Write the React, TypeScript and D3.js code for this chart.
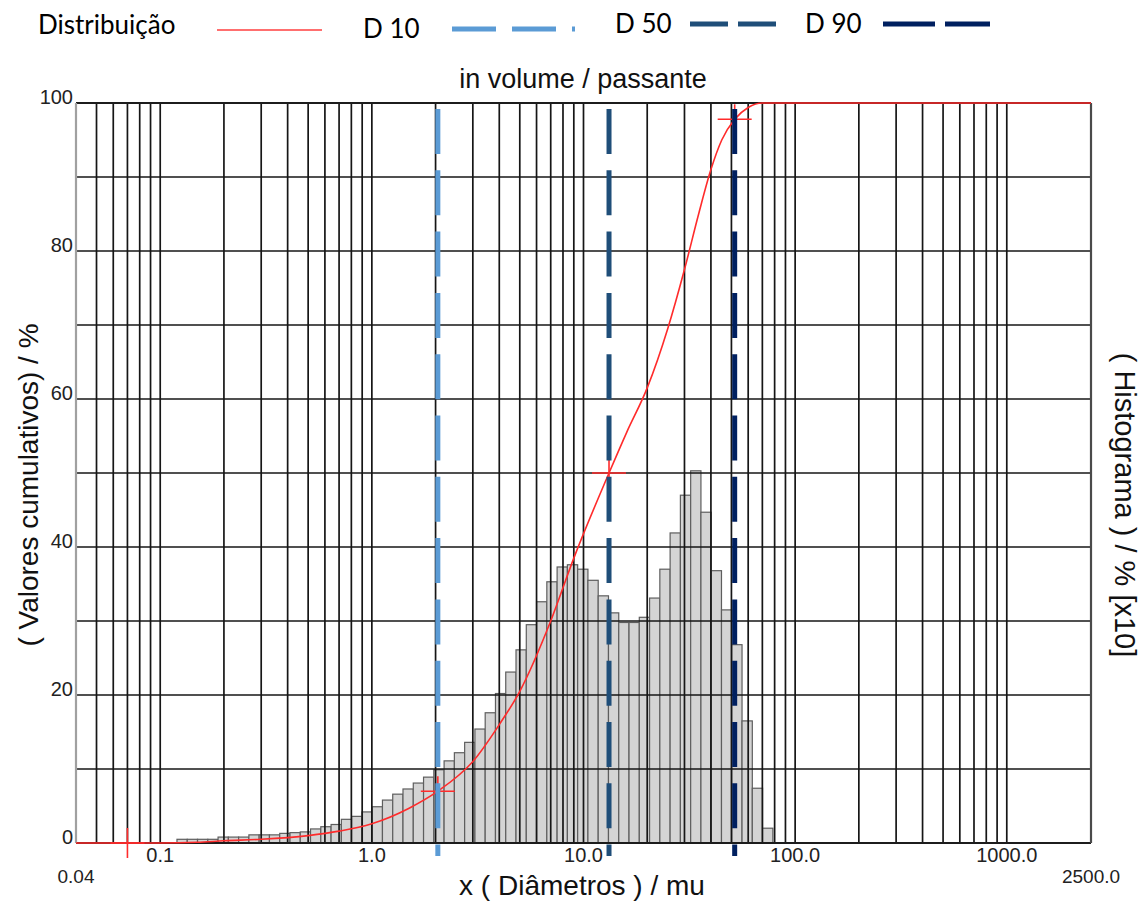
import React, { useEffect, useRef } from 'react';
import * as d3 from 'd3';

const W = 1145;
const H = 904;

// histogram classes (log spaced), values in % x10
const histStart = 0.12;
const histPerDecade = 20.6;
const histValues = [
  0.5, 0.5, 0.5, 0.5, 0.8, 0.8, 0.8, 1.1, 1.1, 1.1,
  1.3, 1.4, 1.5, 1.9, 2.2, 2.5, 3.2, 3.6, 4.2, 4.9,
  5.8, 6.6, 7.3, 8.1, 8.9, 9.9, 11.1, 12.2, 13.6, 15.4,
  17.6, 20.2, 23.1, 26.1, 29.5, 32.6, 35.3, 37.3, 37.6, 37.0,
  35.5, 33.4, 31.1, 29.8, 29.8, 30.5, 33.1, 37.0, 41.9, 47.0,
  50.3, 44.7, 36.8, 31.5, 26.8, 16.5, 7.4, 2.0
];

// cumulative curve (passante %)
const cumDiam = [0.04, 0.1, 0.15, 0.2, 0.3, 0.5, 0.7, 1.0, 1.5, 2.05, 3.0, 4.0, 5.0, 7.0, 9.0, 13.2, 16, 20, 25, 30, 35, 40, 45, 51.8, 60, 70, 2500];
const cumValue = [0, 0, 0.1, 0.3, 0.5, 1.0, 1.6, 2.6, 4.7, 7.0, 11.0, 16.0, 20.5, 30.0, 38.5, 50, 55.5, 61.5, 69.5, 77.5, 85, 91, 95, 97.8, 99.4, 100, 100];

// red cross markers
const markerDiam = [0.07, 2.05, 13.2, 51.8];
const markerValue = [0, 7, 50, 97.8];

// D10 / D50 / D90
const dNames = ['D 10', 'D 50', 'D 90'];
const dValues = [2.05, 13.2, 51.8];
const dColors = ['#5b9bd5', '#1f4e79', '#002060'];

const yTicks = [0, 20, 40, 60, 80, 100];
const xTicks = [0.1, 1, 10, 100, 1000];
const xTickLabels = ['0.1', '1.0', '10.0', '100.0', '1000.0'];
const xEnds = [0.04, 2500];
const xEndLabels = ['0.04', '2500.0'];

const FONT = "'Liberation Sans', Arial, sans-serif";

export default function App() {
  const ref = useRef<SVGSVGElement>(null);

  useEffect(() => {
    const svg = d3.select(ref.current);
    svg.selectAll('*').remove();

    const x = d3.scaleLog().domain([0.04, 2500]).range([76, 1091]);
    const y = d3.scaleLinear().domain([0, 100]).range([843, 103]);

    svg.append('rect').attr('width', W).attr('height', H).attr('fill', '#fff');

    //histogram bars
    const bars = histValues.map((v, i) => ({
      x0: histStart * Math.pow(10, i / histPerDecade),
      x1: histStart * Math.pow(10, (i + 1) / histPerDecade),
      v
    }));
    svg.append('g').selectAll('rect')
      .data(bars)
      .enter().append('rect')
      .attr('x', d => x(d.x0))
      .attr('width', d => x(d.x1) - x(d.x0))
      .attr('y', d => y(d.v))
      .attr('height', d => y(0) - y(d.v))
      .attr('fill', '#d4d4d4')
      .attr('stroke', '#5e5e5e')
      .attr('stroke-width', 1.2);

    //grid
    const vLines: number[] = [];
    [0.01, 0.1, 1, 10, 100].forEach(dec => {
      for (let k = 1; k <= 9; k++) {
        const v = k * dec;
        if (v > 0.041 && v < 1001) vLines.push(v);
      }
    });
    vLines.push(1000);
    const grid = svg.append('g').attr('stroke', '#161616').attr('stroke-width', 1.7);
    grid.selectAll('.v').data(vLines).enter().append('line')
      .attr('x1', d => x(d)).attr('x2', d => x(d))
      .attr('y1', y(100)).attr('y2', y(0));
    grid.selectAll('.h').data(d3.range(10, 100, 10)).enter().append('line')
      .attr('x1', x(0.04)).attr('x2', x(2500))
      .attr('y1', d => y(d)).attr('y2', d => y(d));

    //frame
    svg.append('line').attr('x1', x(0.04)).attr('x2', x(2500)).attr('y1', y(100)).attr('y2', y(100))
      .attr('stroke', '#1c1c1c').attr('stroke-width', 1.8);
    svg.append('line').attr('x1', x(0.04)).attr('x2', x(2500)).attr('y1', y(0)).attr('y2', y(0))
      .attr('stroke', '#1c1c1c').attr('stroke-width', 1.8);
    svg.append('line').attr('x1', x(0.04)).attr('x2', x(0.04)).attr('y1', y(100)).attr('y2', y(0))
      .attr('stroke', '#a0a0a0').attr('stroke-width', 2.2);
    svg.append('line').attr('x1', x(2500)).attr('x2', x(2500)).attr('y1', y(100)).attr('y2', y(0))
      .attr('stroke', '#4a4a4a').attr('stroke-width', 2.2);

    //cumulative curve
    const pts = cumDiam.map((d, i) => [d, cumValue[i]] as [number, number]);
    const line = d3.line<[number, number]>()
      .x(d => x(d[0]))
      .y(d => y(d[1]))
      .curve(d3.curveMonotoneX);
    svg.append('path').datum(pts)
      .attr('d', line)
      .attr('fill', 'none')
      .attr('stroke', '#ff2b2b')
      .attr('stroke-width', 1.6);

    //cross markers
    const marks = svg.append('g').attr('stroke', '#ff2b2b').attr('stroke-width', 1.6);
    markerDiam.forEach((d, i) => {
      const cx = x(d), cy = y(markerValue[i]);
      marks.append('line').attr('x1', cx - 17).attr('x2', cx + 17).attr('y1', cy).attr('y2', cy);
      marks.append('line').attr('x1', cx).attr('x2', cx).attr('y1', cy - 15).attr('y2', cy + 15);
    });

    //D lines
    svg.append('g').selectAll('line')
      .data(dValues)
      .enter().append('line')
      .attr('x1', d => x(d)).attr('x2', d => x(d))
      .attr('y1', y(100) + 6).attr('y2', y(0) + 13)
      .attr('stroke', (d, i) => dColors[i])
      .attr('stroke-width', 5)
      .attr('stroke-dasharray', '45 16.3');

    //y tick labels
    svg.append('g').selectAll('text')
      .data(yTicks)
      .enter().append('text')
      .attr('x', 73)
      .attr('y', d => y(d) + 1)
      .attr('text-anchor', 'end')
      .style('font', `20px ${FONT}`)
      .attr('fill', '#222')
      .text(d => d);

    //x tick labels
    svg.append('g').selectAll('text')
      .data(xTicks)
      .enter().append('text')
      .attr('x', d => x(d))
      .attr('y', 862)
      .attr('text-anchor', 'middle')
      .style('font', `20px ${FONT}`)
      .attr('fill', '#222')
      .text((d, i) => xTickLabels[i]);
    svg.append('g').selectAll('text')
      .data(xEnds)
      .enter().append('text')
      .attr('x', d => x(d))
      .attr('y', 883)
      .attr('text-anchor', 'middle')
      .style('font', `19px ${FONT}`)
      .attr('fill', '#222')
      .text((d, i) => xEndLabels[i]);

    //axis titles
    svg.append('text')
      .attr('x', 582).attr('y', 895)
      .attr('text-anchor', 'middle')
      .style('font', `28px ${FONT}`)
      .attr('fill', '#111')
      .text('x ( Diâmetros ) / mu');
    svg.append('text')
      .attr('transform', 'translate(38,485) rotate(-90)')
      .attr('text-anchor', 'middle')
      .style('font', `28px ${FONT}`)
      .attr('fill', '#111')
      .text('( Valores cumulativos) / %');
    svg.append('text')
      .attr('transform', 'translate(1115,505) rotate(90)')
      .attr('text-anchor', 'middle')
      .style('font', `29px ${FONT}`)
      .attr('fill', '#111')
      .text('( Histograma ) / % [x10]');
    svg.append('text')
      .attr('x', 583).attr('y', 88)
      .attr('text-anchor', 'middle')
      .style('font', `27px ${FONT}`)
      .attr('fill', '#111')
      .text('in volume / passante');

    //legend
    const LFONT = "Lato, 'Open Sans', sans-serif";
    svg.append('text').attr('x', 38).attr('y', 34)
      .style('font', `26px ${LFONT}`).attr('fill', '#000').text('Distribuição');
    svg.append('line').attr('x1', 217).attr('x2', 322).attr('y1', 30).attr('y2', 30)
      .attr('stroke', '#ff6f6f').attr('stroke-width', 2.2);
    const legX = [363, 615, 805];
    const legY = [38, 33, 33];
    const legLine = [[452, 575], [690, 781], [883, 990]];
    const legDash = ['44 16', '38 10', '52 10'];
    dNames.forEach((n, i) => {
      svg.append('text').attr('x', legX[i]).attr('y', legY[i])
        .style('font', `26px ${LFONT}`).attr('fill', '#000').text(n);
      svg.append('line')
        .attr('x1', legLine[i][0]).attr('x2', legLine[i][1])
        .attr('y1', legY[i] - 9).attr('y2', legY[i] - 9)
        .attr('stroke', dColors[i]).attr('stroke-width', 5)
        .attr('stroke-dasharray', legDash[i]);
    });
  }, []);

  return (
    <svg ref={ref} width={W} height={H}
      style={{ position: 'absolute', left: 0, top: 0, display: 'block' }} />
  );
}
